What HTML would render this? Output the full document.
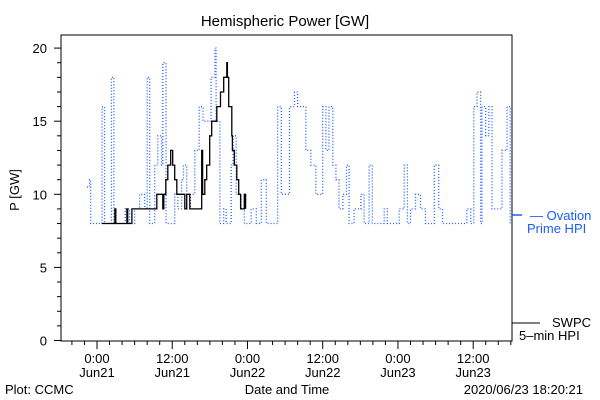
<!DOCTYPE html>
<html><head><meta charset="utf-8"><style>
body{margin:0;background:#fff}
svg{display:block;font-family:"Liberation Sans",sans-serif}
</style></head><body>
<svg id="chart" width="600" height="400" viewBox="0 0 600 400">
<rect width="600" height="400" fill="#fff"/>
<text x="285" y="26" text-anchor="middle" font-size="15">Hemispheric Power [GW]</text>
<text transform="translate(19,190) rotate(-90)" text-anchor="middle" font-size="13">P [GW]</text>
<rect x="61" y="35" width="451" height="306" fill="none" stroke="#000" stroke-width="1"/>
<g id="yticks"></g>
<g id="xticks"></g>
<g id="series"></g>
<text x="287" y="394" text-anchor="middle" font-size="13">Date and Time</text>
<text x="5" y="394" font-size="13">Plot: CCMC</text>
<text x="583" y="394" text-anchor="end" font-size="13">2020/06/23 18:20:21</text>
<g>
<line x1="512" y1="215" x2="522" y2="215" stroke="#1a5cff" stroke-width="1.5"/>
<text x="530" y="220" font-size="13" fill="#1a5cff">— Ovation</text>
<text x="527" y="233" font-size="13" fill="#1a5cff">Prime HPI</text>
</g>
<g>
<line x1="512" y1="323" x2="540" y2="323" stroke="#000" stroke-width="1"/>
<text x="552" y="327" font-size="13">SWPC</text>
<text x="519" y="340" font-size="13">5–min HPI</text>
</g>
</svg>
<script>
const yTickValues=[0,5,10,15,20];
const xTickHours=[0,12,24,36,48,60];
const xTickLabels1=["0:00","12:00","0:00","12:00","0:00","12:00"];
const xTickLabels2=["Jun21","Jun21","Jun22","Jun22","Jun23","Jun23"];
const ovationHours=[-1.6,-1.2,-1.0,0.5,0.8,1.2,2.1,2.3,2.7,3.9,4.5,5.2,6.0,6.8,7.6,8.0,8.4,9.2,9.7,10.3,10.5,11.0,11.9,12.4,12.9,13.5,13.8,14.3,14.9,15.6,16.3,16.9,17.7,18.2,18.8,19.0,19.6,20.2,20.6,21.4,21.7,22.2,23.0,23.5,24.6,25.4,26.2,27.0,28.0,28.8,29.4,30.7,31.5,32.0,32.8,33.3,34.1,34.9,35.5,36.0,36.5,37.0,37.6,38.1,38.6,39.2,39.8,40.2,41.0,41.5,42.1,42.6,43.4,43.9,45.3,45.8,46.3,47.6,48.2,49.0,49.5,50.0,50.8,51.6,52.4,53.2,53.8,54.5,55.1,58.8,59.0,59.6,60.1,60.6,61.2,61.4,62.0,62.5,63.0,64.1,64.6,65.4,65.9];
const ovationValues=[10.5,11,8,8,16,8,8,18,8,8,9,8,9,10,9,18,8,12,14,12,19,8,8,10,9,11,12,9,10,13,16,15,15,18,20,15,8,9,8,12,14,10,9,8,9,8,11,8,8,16,10,16,17,16,16,13,12,10,10,16,13,16,12,11,9,10,12,8,9,9,10,8,12,8,8,9,8,8,9,12,8,9,10,9,8,8,12,9,8,8,9,8,16,17,8,16,14,16,9,9,13,16,8];
const swpcHours=[0.75,2.86,3.0,4.77,4.9,5.56,5.72,9.54,9.86,10.5,10.65,10.97,11.29,11.76,12.08,12.4,12.72,14.0,14.3,14.8,16.7,16.85,17.2,17.5,17.97,18.3,19.1,19.7,20.2,20.7,20.8,21.0,21.5,21.6,21.9,22.3,22.6,22.9,23.5,23.7];
const swpcValues=[8,9,8,9,8,9,9,10,10,9,10,11,12,13,12,11,10,9,10,9,13,10,11,12,14,15,16,17,18,19,18,16,14,13,12,11,10,9,10,9];
const X0=97,XS=6.27,Y0=340.5,YS=14.62;
const xs=h=>X0+h*XS, ys=v=>Y0-v*YS;
const NS="http://www.w3.org/2000/svg";
function mk(tag,attrs,parent){const e=document.createElementNS(NS,tag);for(const k in attrs)e.setAttribute(k,attrs[k]);parent.appendChild(e);return e;}
const yg=document.getElementById('yticks');
for(let v=0;v<=20;v++){const y=ys(v);const t=mk('line',{x1:61-(v%5===0?7:4),x2:61,y1:y,y2:y,stroke:'#000'},yg);

}
yTickValues.forEach(v=>{const t=mk('text',{x:47,y:ys(v)+5,'text-anchor':'end','font-size':13},yg);t.textContent=v;

});
const xg=document.getElementById('xticks');
for(let h=-4;h<=66;h+=2){const x=xs(h);if(x<61||x>512)continue;const major=h%12===0;const t=mk('line',{x1:x,x2:x,y1:341,y2:341+(major?8:4),stroke:'#000'},xg);

}
xTickHours.forEach((h,i)=>{const a=mk('text',{x:xs(h),y:363,'text-anchor':'middle','font-size':13},xg);a.textContent=xTickLabels1[i];


const b=mk('text',{x:xs(h),y:377,'text-anchor':'middle','font-size':13},xg);b.textContent=xTickLabels2[i];

});
const sg=document.getElementById('series');
function stepPts(hs,vs){const p=[];hs.forEach((h,i)=>{if(i>0)p.push(xs(h).toFixed(1)+','+ys(vs[i-1]).toFixed(1));p.push(xs(h).toFixed(1)+','+ys(vs[i]).toFixed(1));});return p.join(' ');}
const ol=mk('polyline',{points:stepPts(ovationHours,ovationValues),fill:'none',stroke:'#1a5cff','stroke-width':1.3,'stroke-dasharray':'1 2'},sg);


const sl=mk('polyline',{points:stepPts(swpcHours,swpcValues),fill:'none',stroke:'#000','stroke-width':1.3},sg);


</script>
</body></html>
